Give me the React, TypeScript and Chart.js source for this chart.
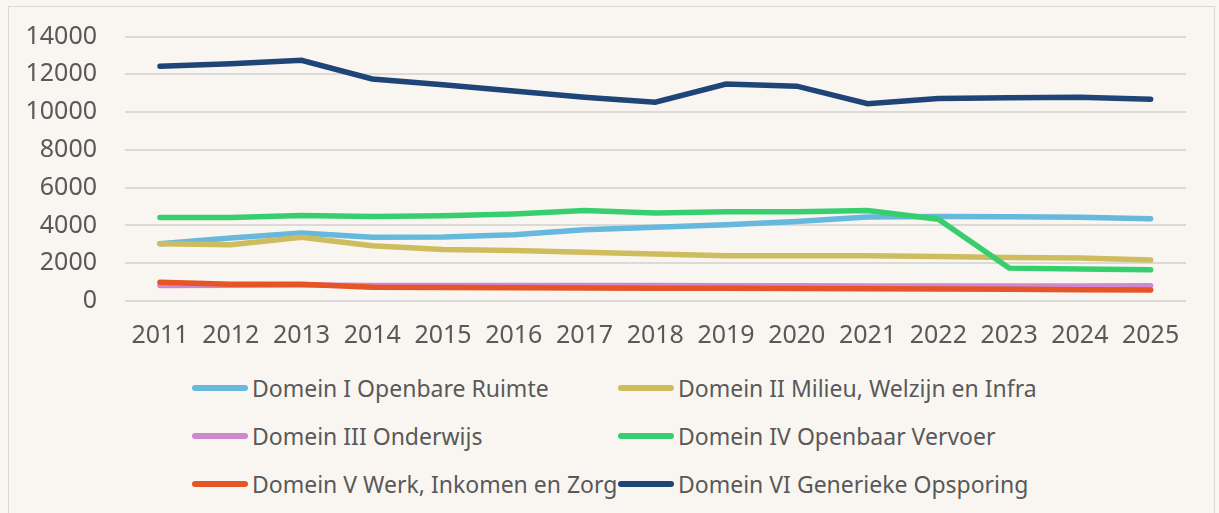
import React, { useEffect, useRef } from "react";
import { Chart, registerables } from "chart.js";

Chart.register(...registerables);

const years = ["2011", "2012", "2013", "2014", "2015", "2016", "2017", "2018", "2019", "2020", "2021", "2022", "2023", "2024", "2025"];

const domeinI = [3035, 3330, 3600, 3370, 3390, 3510, 3770, 3910, 4030, 4210, 4440, 4470, 4460, 4430, 4350];
const domeinII = [3035, 2980, 3370, 2930, 2720, 2670, 2580, 2490, 2400, 2390, 2390, 2350, 2300, 2280, 2175];
const domeinIII = [820, 830, 850, 820, 820, 820, 820, 820, 810, 810, 800, 790, 790, 800, 810];
const domeinIV = [4420, 4420, 4520, 4470, 4510, 4610, 4790, 4660, 4720, 4720, 4790, 4330, 1740, 1700, 1650];
const domeinV = [990, 890, 880, 730, 710, 700, 690, 680, 670, 660, 650, 640, 620, 600, 580];
const domeinVI = [12430, 12560, 12740, 11750, 11450, 11110, 10780, 10520, 11480, 11370, 10440, 10720, 10760, 10780, 10680];

const seriesNames = [
  "Domein I Openbare Ruimte",
  "Domein II Milieu, Welzijn en Infra",
  "Domein III Onderwijs",
  "Domein IV Openbaar Vervoer",
  "Domein V Werk, Inkomen en Zorg",
  "Domein VI Generieke Opsporing",
];
const seriesData = [domeinI, domeinII, domeinIII, domeinIV, domeinV, domeinVI];
const seriesColors = ["#66b8dc", "#cfbc5f", "#cf88cf", "#37cf6e", "#e65526", "#1f4478"];

const yTicks = [0, 2000, 4000, 6000, 8000, 10000, 12000, 14000];

const FONT = "'Noto Sans', 'Open Sans', sans-serif";
const TEXT = "#595959";
const BG = "#f9f6f2";

export default function App() {
  const ref = useRef<HTMLCanvasElement | null>(null);

  useEffect(() => {
    const canvas = ref.current;
    if (!canvas) return;
    const chart = new Chart(canvas, {
      type: "line",
      data: {
        labels: years,
        datasets: seriesNames.map((name, i) => ({
          label: name,
          data: seriesData[i],
          borderColor: seriesColors[i],
          backgroundColor: seriesColors[i],
          borderWidth: 5.5,
          borderCapStyle: "round" as const,
          borderJoinStyle: "miter" as const,
          pointRadius: 0,
          pointHoverRadius: 0,
          tension: 0,
          fill: false,
          order: 6 - i,
        })),
      },
      options: {
        responsive: false,
        animation: false,
        devicePixelRatio: 1,
        layout: { padding: { left: 0, right: 28, top: 29.5, bottom: 0 } },
        plugins: {
          legend: { display: false },
          tooltip: { enabled: false },
          title: { display: false },
        },
        scales: {
          x: {
            type: "category",
            offset: true,
            grid: { display: false, drawTicks: false },
            border: { display: false },
            ticks: {
              color: TEXT,
              font: { family: FONT, size: 25 },
              padding: 19.5,
              maxRotation: 0,
              autoSkip: false,
            },
            afterFit: (scale: any) => {
              scale.height = 66;
              scale.paddingLeft = 0;
              scale.paddingRight = 0;
            },
          },
          y: {
            min: 0,
            max: 14000,
            afterBuildTicks: (scale: any) => {
              scale.ticks = yTicks.map((v) => ({ value: v }));
            },
            grid: { color: "#dcdad6", lineWidth: 2, drawTicks: false },
            border: { display: false },
            ticks: {
              color: TEXT,
              font: { family: FONT, size: 25 },
              padding: 27.6,
              callback: (v: any) => String(v),
            },
            afterFit: (scale: any) => {
              scale.width = 115.6;
              scale.paddingTop = 0;
              scale.paddingBottom = 0;
            },
          },
        },
      },
    });
    return () => chart.destroy();
  }, []);

  const rows = [388, 436, 484];
  const cols = [{ line: 192, text: 252 }, { line: 618, text: 678 }];

  return (
    <div style={{ position: "fixed", inset: 0, background: BG }}>
      <div
        style={{
          position: "absolute",
          left: 8,
          top: 6,
          width: 1207,
          height: 530,
          boxSizing: "border-box",
          border: "1px solid #d9d9d9",
          background: BG,
        }}
      >
        <canvas ref={ref} width={1205} height={360} style={{ position: "absolute", left: 0, top: 0, width: 1205, height: 360 }} />
        {seriesNames.map((name, i) => {
          const r = Math.floor(i / 2);
          const c = i % 2;
          const cy = rows[r] - 7;
          return (
            <React.Fragment key={name}>
              <div
                style={{
                  position: "absolute",
                  left: cols[c].line - 9,
                  top: cy - 3,
                  width: 56,
                  height: 6,
                  borderRadius: 3,
                  background: seriesColors[i],
                }}
              />
              <div
                style={{
                  position: "absolute",
                  left: cols[c].text - 9,
                  top: cy - 16,
                  height: 32,
                  lineHeight: "32px",
                  fontFamily: FONT,
                  fontSize: 23,
                  color: TEXT,
                  whiteSpace: "nowrap",
                }}
              >
                {name}
              </div>
            </React.Fragment>
          );
        })}
      </div>
    </div>
  );
}
